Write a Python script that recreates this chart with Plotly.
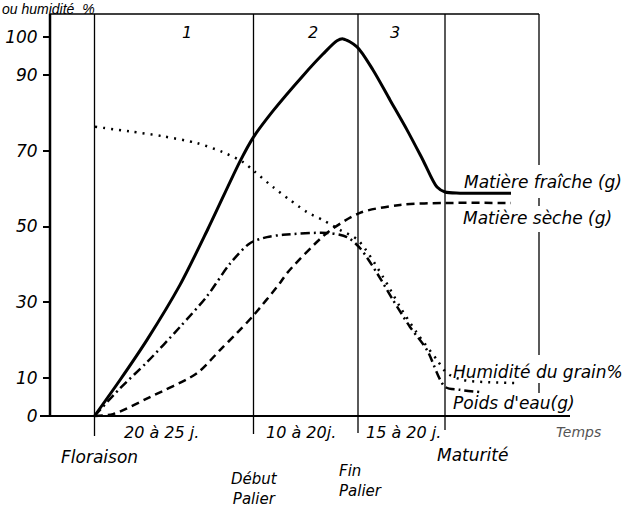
import plotly.graph_objects as go

# ---- data (time in arbitrary units, values in g or %) ----
phase_x = [0.0, 15.9, 26.35, 35.05]          # Floraison, Début palier, Fin palier, Maturité
frame_x = 44.45

mf_x = [0, 2.55, 5.25, 8.55, 11.35, 14.55, 15.85, 17.85, 20.85, 22.85, 24.25, 24.85, 26.25, 27.85, 29.55, 31.25, 32.85, 34.25, 35.05, 36.55, 41.65]
mf_y = [0, 9.5, 20.1, 34.6, 49.4, 67.2, 73.4, 80.5, 89.8, 95.5, 99.0, 99.5, 97.4, 91.3, 83.4, 75.5, 67.5, 60.4, 59.1, 58.8, 58.8]

ms_x = [0, 1.85, 5.55, 10.25, 12.55, 14.25, 15.85, 18.55, 19.25, 23.25, 26.55, 30.55, 35.05, 41.65]
ms_y = [0, 0.5, 5.0, 11.3, 17.4, 21.9, 26.4, 35.1, 37.7, 48.3, 53.6, 55.7, 56.2, 56.2]

hu_x = [0.05, 3.55, 6.85, 10.25, 12.85, 14.85, 16.05, 17.85, 19.55, 21.25, 22.85, 24.55, 26.35, 28.85, 30.55, 32.25, 34.25, 35.25, 36.85, 42.25]
hu_y = [76.3, 75.1, 73.8, 72.0, 69.6, 67.0, 64.4, 60.4, 57.0, 53.8, 51.7, 49.1, 46.4, 36.7, 28.8, 21.9, 14.8, 11.3, 9.5, 8.7]

pe_x = [0, 2.55, 5.25, 8.55, 11.25, 13.55, 15.55, 17.25, 18.85, 23.25, 25.25, 26.55, 28.25, 29.85, 31.55, 33.25, 35.05, 36.55, 38.55]
pe_y = [0, 7.3, 14.2, 23.5, 31.6, 40.2, 45.6, 47.2, 47.8, 48.3, 47.2, 44.3, 37.7, 30.6, 23.5, 17.4, 7.7, 6.9, 6.3]

y_ticks = [0, 10, 30, 50, 70, 90, 100]

FONT = "DejaVu Sans"
def f(size=16, color="black", family=FONT):
    return dict(family=family, size=size, color=color, style="italic")

# plot-area geometry (pixels) used to place outer labels
L, W, T, H = 50, 582, 14, 410
def px(xp, yp):
    return (xp - L) / W, (T + H - yp) / H

fig = go.Figure()
fig.add_trace(go.Scatter(x=mf_x, y=mf_y, mode="lines", line=dict(color="black", width=3, shape="spline", smoothing=0.8), name="Matière fraîche (g)"))
fig.add_trace(go.Scatter(x=ms_x, y=ms_y, mode="lines", line=dict(color="black", width=2.5, dash="8px,5px", shape="spline", smoothing=0.8), name="Matière sèche (g)"))
fig.add_trace(go.Scatter(x=hu_x, y=hu_y, mode="lines", line=dict(color="black", width=2.5, dash="2px,6px", shape="spline", smoothing=0.8), name="Humidité du grain%"))
fig.add_trace(go.Scatter(x=pe_x, y=pe_y, mode="lines", line=dict(color="black", width=2.5, dash="9px,4px,2px,4px", shape="spline", smoothing=0.8), name="Poids d'eau(g)"))

shapes = []
ends = [436, 434, 433, 430]
for xv, e in zip(phase_x, ends):
    shapes.append(dict(type="line", xref="x", yref="paper", x0=xv, x1=xv, y0=px(0, e)[1], y1=1,
                       line=dict(color="black", width=1.3)))
for a, b in [(14, 165), (198, 206), (232, 355), (383, 393)]:
    shapes.append(dict(type="line", xref="x", yref="paper", x0=frame_x, x1=frame_x,
                       y0=px(0, b)[1], y1=px(0, a)[1], line=dict(color="black", width=1.3)))
shapes.append(dict(type="line", xref="paper", yref="paper", x0=0, x1=px(539, 0)[0], y0=1, y1=1,
                   line=dict(color="black", width=1.5)))
shapes.append(dict(type="line", xref="paper", yref="y", x0=0, x1=0, y0=0, y1=106.07,
                   line=dict(color="black", width=2.5)))
shapes.append(dict(type="line", xref="paper", yref="y", x0=px(40, 0)[0], x1=px(570, 0)[0], y0=0, y1=0,
                   line=dict(color="black", width=2)))

ann = []
def add(text, xp, yp, size=16, xanchor="center", align="center", color="black", family=FONT):
    xx, yy = px(xp, yp)
    ann.append(dict(text=text, x=xx, y=yy, xref="paper", yref="paper", showarrow=False,
                    xanchor=xanchor, yanchor="middle", align=align, font=f(size, color, family)))

add("ou humidité  %", 0, 9, 14, xanchor="left", family="Liberation Sans")
add("1", 187, 32)
add("2", 313, 32)
add("3", 395, 32)
add("20 à 25 j.", 161, 432)
add("10 à 20j.", 301, 432)
add("15 à 20 j.", 404, 432)
add("Temps", 578, 432, 14, color="#555")
add("Floraison", 99, 457, 17)
add("Début<br>Palier", 254, 489, 15)
add("Fin<br>Palier", 337, 481, 15, xanchor="left", align="left")
add("Maturité", 472, 455, 17)
add("Matière fraîche (g)", 462, 182, 17, xanchor="left")
add("Matière sèche (g)", 461, 218, 17, xanchor="left")
add("Humidité du grain%", 451, 372, 17, xanchor="left")
add("Poids d'eau(g)", 451, 403, 17, xanchor="left")

fig.update_layout(
    width=632, height=509,
    margin=dict(l=L, r=632 - L - W, t=T, b=509 - T - H, autoexpand=False),
    paper_bgcolor="white", plot_bgcolor="white",
    showlegend=False,
    shapes=shapes, annotations=ann,
    xaxis=dict(visible=False, range=[-4.45, 53.75], automargin=False),
    yaxis=dict(range=[-2.11, 106.07], tickvals=y_ticks, ticktext=[str(v) for v in y_ticks],
               ticks="outside", ticklen=6, tickwidth=1.5, tickcolor="black", automargin=False,
               showline=False, showgrid=False, zeroline=False, tickfont=f(17), ticklabelstandoff=2),
)
fig.write_html("out.html", config={"displayModeBar": False},
               post_script="document.body.style.margin='0px';")
